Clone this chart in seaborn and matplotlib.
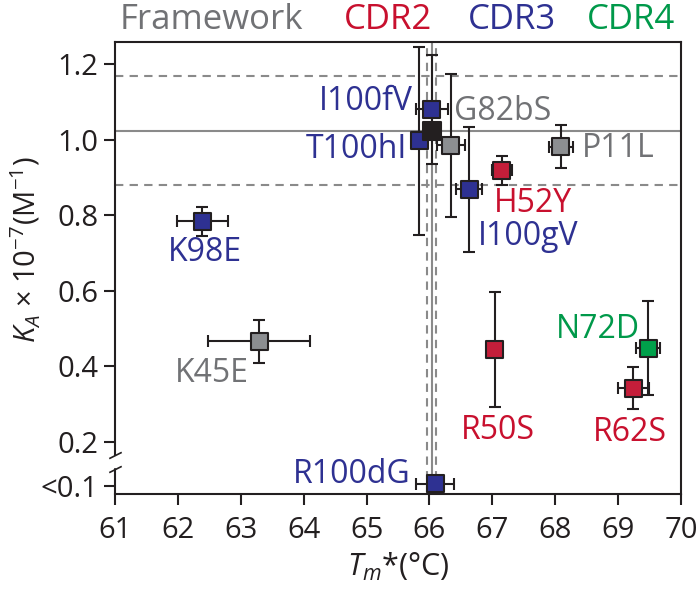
import matplotlib
matplotlib.use("Agg")
import numpy as np
import pandas as pd
import matplotlib.pyplot as plt
import seaborn as sns

# values
names = ['K98E', 'K45E', 'I100fV', 'T100hI', 'G82bS', 'I100gV',
         'H52Y', 'P11L', 'R50S', 'N72D', 'R62S', 'R100dG']
region = ['CDR3', 'Framework', 'CDR3', 'CDR3', 'Framework', 'CDR3',
          'CDR2', 'Framework', 'CDR2', 'CDR4', 'CDR2', 'CDR3']
tm = [62.39, 63.29, 66.04, 65.84, 66.34, 66.63, 67.15, 68.09, 67.04, 69.48, 69.24, 66.09]
tm_err = [0.41, 0.81, 0.26, 0.08, 0.22, 0.21, 0.16, 0.19, 0.05, 0.19, 0.245, 0.30]
ka = [0.784, 0.466, 1.081, 0.998, 0.985, 0.869, 0.919, 0.982, 0.445, 0.448, 0.342, 0.088]
ka_err = [0.038, 0.057, 0.145, 0.249, 0.19, 0.166, 0.038, 0.056, 0.152, 0.124, 0.055, 0.0]

# wild type mean and spread (grey reference lines)
wt_tm, wt_tm_sd = 66.035, 0.07
wt_ka, wt_ka_sd = 1.024, 0.145

xticks = [61, 62, 63, 64, 65, 66, 67, 68, 69, 70]
yticks = [0.0826, 0.2, 0.4, 0.6, 0.8, 1.0, 1.2]
ytick_labels = ['<0.1', '0.2', '0.4', '0.6', '0.8', '1.0', '1.2']
groups = ['Framework', 'CDR2', 'CDR3', 'CDR4']

# label offsets in pixels from each point (text placement only)
label_offsets = {
    'K98E': (3, -31, 'center'), 'K45E': (-47, -32, 'center'),
    'I100fV': (-19, 8, 'right'), 'T100hI': (-12, -9, 'right'),
    'G82bS': (3, 34, 'left'), 'I100gV': (9, -47, 'left'),
    'H52Y': (-8, -33, 'left'), 'P11L': (21, -2, 'left'),
    'R50S': (3, -81, 'center'), 'N72D': (-50, 19, 'center'),
    'R62S': (-3, -44, 'center'), 'R100dG': (-25, 9, 'right'),
}

fill_pal = {'Framework': '#8c8e91', 'CDR2': '#c41e3a', 'CDR3': '#2e3192', 'CDR4': '#00a14b'}
text_pal = {'Framework': '#717275', 'CDR2': '#c8102e', 'CDR3': '#2e3192', 'CDR4': '#00994a'}
ink = '#231f20'

sns.set_theme(style='ticks')
plt.rcParams['font.family'] = ['Open Sans', 'DejaVu Sans']
plt.rcParams['mathtext.fontset'] = 'custom'
plt.rcParams['mathtext.rm'] = 'Open Sans'
plt.rcParams['mathtext.it'] = 'Open Sans:italic'

df = pd.DataFrame({'name': names, 'region': region, 'tm': tm, 'tm_err': tm_err,
                   'ka': ka, 'ka_err': ka_err})

fig = plt.figure(figsize=(7, 6.03), dpi=100)
ax = fig.add_axes([0.1643, 0.1808, 0.8086, 0.7500])

ylo, yhi = 0.0614, 1.26
ax.set_xlim(61, 70)
ax.set_ylim(ylo, yhi)

# wild type reference band
ax.axhline(wt_ka, color='#8a8a8a', lw=1.5, zorder=1)
for s in (-1, 1):
    ax.axhline(wt_ka + s * wt_ka_sd, color='#8a8a8a', lw=1.5, ls=(0, (4, 3)), zorder=1)
ax.axvline(wt_tm, color='#8a8a8a', lw=1.5, zorder=1)
for s in (-1, 1):
    ax.axvline(wt_tm + s * wt_tm_sd, color='#8a8a8a', lw=1.5, ls=(0, (4, 3)), zorder=1)

ax.errorbar(df.tm, df.ka, xerr=df.tm_err, yerr=df.ka_err, fmt='none',
            ecolor=ink, elinewidth=1.5, capsize=4.5, capthick=1.5, zorder=2)

sns.scatterplot(data=df, x='tm', y='ka', hue='region', palette=fill_pal, marker='s',
                s=150, edgecolor=ink, linewidth=1.5, legend=False, ax=ax, zorder=3)
sns.scatterplot(x=[wt_tm], y=[wt_ka], color=ink, marker='s', s=150,
                edgecolor=ink, linewidth=1.5, ax=ax, zorder=3)

for _, r in df.iterrows():
    dx, dy, ha = label_offsets[r['name']]
    ax.annotate(r['name'], (r.tm, r.ka), xytext=(dx, dy), textcoords='offset pixels',
                ha=ha, va='center', fontsize=23, color=text_pal[r.region], zorder=4)

ax.set_xticks(xticks)
ax.set_yticks(yticks)
ax.set_yticklabels(ytick_labels)
ax.tick_params(direction='out', length=8, width=1.5, labelsize=21, colors=ink, pad=4)
ax.tick_params(axis='x', pad=8)
for sp in ax.spines.values():
    sp.set_linewidth(1.5)
    sp.set_color(ink)

# broken y axis between 0.2 and <0.1
ax.spines['left'].set_bounds(0.165, yhi)
ytr = ax.get_yaxis_transform()
ax.plot([0, 0], [ylo, 0.128], transform=ytr, color=ink, lw=1.5, clip_on=False)
ax.plot([0, 0], [0.165, 0.128], transform=ytr, marker=[(-1, -0.5), (1, 0.5)],
        markersize=9, ls='none', color=ink, mec=ink, mew=1.2, clip_on=False)

ax.set_xlabel(r'$T_m$*(°C)', fontsize=22, color=ink, labelpad=4)
ax.set_ylabel(r'$K_A$ × 10$^{-7}$(M$^{-1}$)', fontsize=21, color=ink,
              va='center', ha='center')
ax.yaxis.set_label_coords(-0.158, 0.54)

# coloured group headings above the plot
head_x = [211, 388, 512, 631]
for g, hx in zip(groups, head_x):
    fig.text(hx / 700, 1 - 20 / 603, g, ha='center', va='center',
             fontsize=25, color=text_pal[g])

fig.savefig('out.png', dpi=100)
